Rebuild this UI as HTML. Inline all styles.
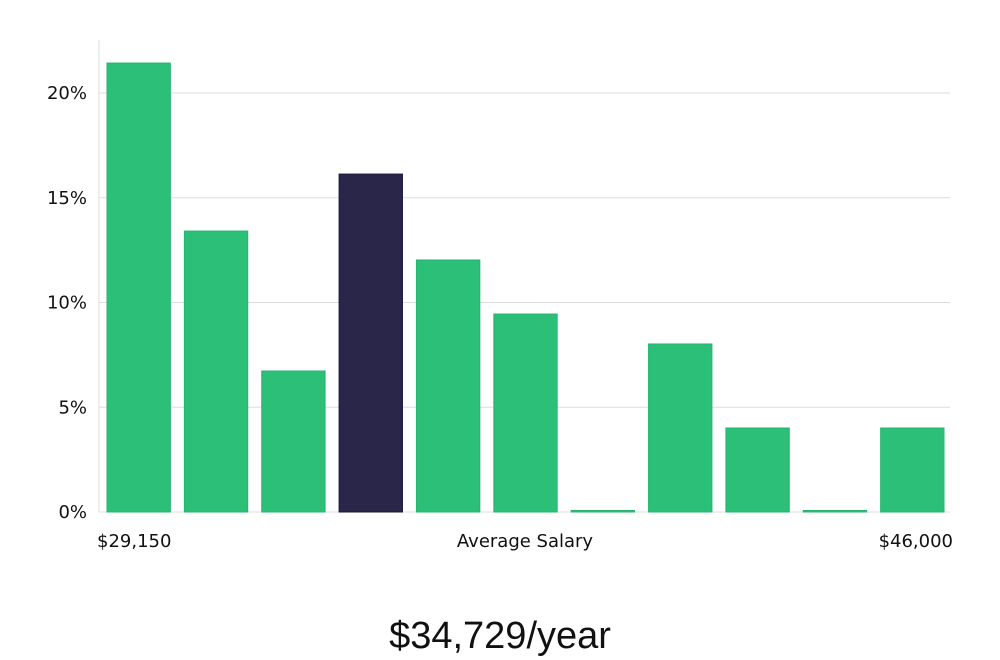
<!DOCTYPE html>
<html><head><meta charset="utf-8"><style>
body{margin:0;background:#fff;width:1000px;height:660px;overflow:hidden}
svg{display:block}
text{font-family:"DejaVu Sans","Liberation Sans",sans-serif;fill:#111}
</style></head><body>
<svg id="chart" width="1000" height="660"></svg>
<script>
const categories=["b1","b2","b3","b4","b5","b6","b7","b8","b9","b10","b11"];
const values=[21.43,13.41,6.73,16.13,12.03,9.45,0,8.02,4.01,0,4.01];
const highlightIndex=3;
const yTicks=[0,5,10,15,20];
const yTickLabels=["0%","5%","10%","15%","20%"];
const xLabels=["$29,150","Average Salary","$46,000"];
const title="$34,729/year";

const NS="http://www.w3.org/2000/svg";
const svg=document.getElementById('chart');
const L=99,R=950,T=40,B=512;
const y=v=>B-v*(B-93)/20;
const band=(R-L)/categories.length;
const x=i=>L+i*band+8;
const bw=band-14;
function mk(t,a){const e=document.createElementNS(NS,t);for(const k in a)e.setAttribute(k,a[k]);svg.appendChild(e);return e;}
yTicks.forEach((t,i)=>{
 const g=mk('line',{x1:L,x2:R,y1:y(t),y2:y(t),stroke:'#dddddd','stroke-width':1});
 
 
 const tx=mk('text',{x:L-12,y:y(t)+6,'text-anchor':'end','font-size':18});
 tx.textContent=yTickLabels[i];
 
 
});
const ax=mk('line',{x1:L,x2:L,y1:T,y2:B,stroke:'#dddddd','stroke-width':1});


values.forEach((v,i)=>{
 const h=Math.max(1.5,B-y(v));
 const hi=i===highlightIndex;
 const r=mk('rect',{x:x(i),y:B-h,width:bw,height:h,fill:hi?'#29264a':'#2bbf77',stroke:hi?'#1a1738':'#27b56f','stroke-width':1});
 
 
});
const xl=[[97,'start'],[525,'middle'],[953,'end']];
xLabels.forEach((s,i)=>{
 const t=mk('text',{x:xl[i][0],y:547,'text-anchor':xl[i][1],'font-size':18});
 t.textContent=s;
 
 
});
const tt=mk('text',{x:500,y:648,'text-anchor':'middle','font-size':38,style:'font-family:"Liberation Sans",sans-serif;font-weight:300'});
tt.textContent=title;


</script>
</body></html>
